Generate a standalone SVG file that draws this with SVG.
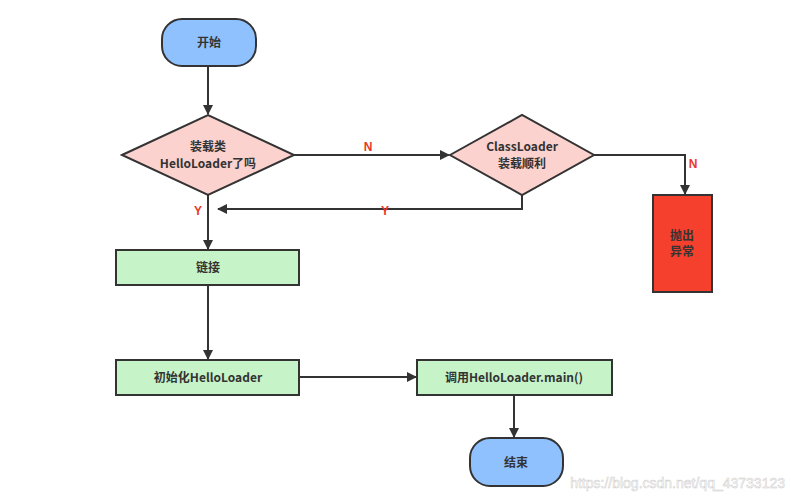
<svg xmlns="http://www.w3.org/2000/svg" width="791" height="501" viewBox="0 0 791 501">
<defs>
<marker id="ah" markerWidth="10" markerHeight="10" refX="9" refY="5" orient="auto" markerUnits="userSpaceOnUse"><path d="M0,0 L10,5 L0,10 z" fill="#333"/></marker>
<style>
.t{font-family:"Noto Sans CJK SC","Liberation Sans",sans-serif;font-size:12px;font-weight:bold;fill:#333;text-anchor:middle}
.l{font-family:"Liberation Sans",sans-serif;font-size:12px;font-weight:bold;fill:#e8382b;text-anchor:middle}
.s{stroke:#333;stroke-width:2}
.c{fill:none;stroke:#333;stroke-width:2;marker-end:url(#ah)}
</style>
</defs>
<rect width="791" height="501" fill="#fff"/>
<g id="connectors">
<path class="c" d="M208,66 V114"/>
<path class="c" d="M294,155 H449"/>
<path class="c" d="M594,155 H685 V194"/>
<path class="c" d="M522,195 V209 H218"/>
<path class="c" d="M208,195 V249"/>
<path class="c" d="M208,285 V359"/>
<path class="c" d="M299,377 H416"/>
<path class="c" d="M514,395 V437"/>
<text class="l" x="368" y="151">N</text>
<text class="l" x="693" y="168">N</text>
<text class="l" x="198" y="215">Y</text>
<text class="l" x="385" y="215">Y</text>
</g>
<g id="start"><rect class="s" x="162" y="19" width="94" height="47" rx="20" fill="#8fc1ff"/><text class="t" x="209" y="47">开始</text></g>
<g id="d1"><polygon class="s" points="122,155 208,115 294,155 208,195" fill="#fcd2cf"/><text class="t" x="208" y="151">装载类</text><text class="t" x="208" y="168">HelloLoader了吗</text></g>
<g id="d2"><polygon class="s" points="450,155 522,115 594,155 522,195" fill="#fcd2cf"/><text class="t" x="522" y="151">ClassLoader</text><text class="t" x="522" y="168">装载顺利</text></g>
<g id="err"><rect class="s" x="653" y="195" width="59" height="97" fill="#f4402c"/><text class="t" x="682" y="240">抛出</text><text class="t" x="682" y="256">异常</text></g>
<g id="link"><rect class="s" x="116" y="250" width="183" height="35" fill="#c6f3c8"/><text class="t" x="208" y="272">链接</text></g>
<g id="init"><rect class="s" x="116" y="360" width="183" height="35" fill="#c6f3c8"/><text class="t" x="208" y="382">初始化HelloLoader</text></g>
<g id="call"><rect class="s" x="417" y="360" width="195" height="35" fill="#c6f3c8"/><text class="t" x="514" y="382">调用HelloLoader.main()</text></g>
<g id="end"><rect class="s" x="470" y="438" width="93" height="48" rx="20" fill="#8fc1ff"/><text class="t" x="516" y="467">结束</text></g>
<text x="785" y="488" font-family="Liberation Sans,sans-serif" font-size="14" fill="#fff" stroke="#ccc" stroke-width="0.5" text-anchor="end">https://blog.csdn.net/qq_43733123</text>
</svg>
